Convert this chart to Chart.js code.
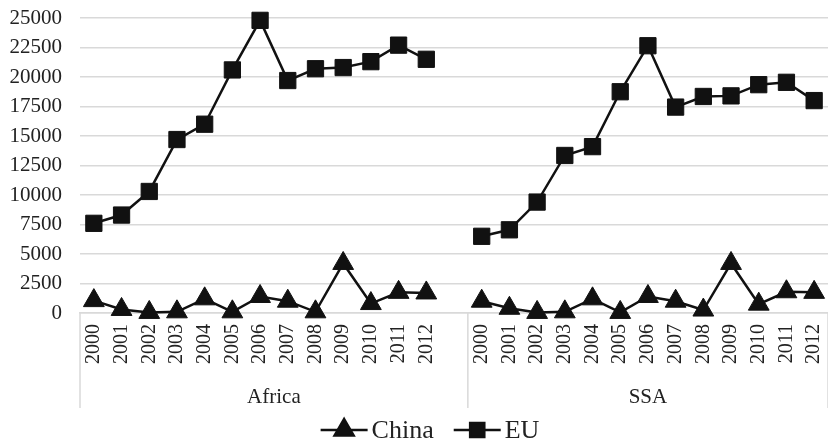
<!DOCTYPE html>
<html>
<head>
<meta charset="utf-8">
<script src="https://cdn.jsdelivr.net/npm/chart.js@4.4.1/dist/chart.umd.min.js"></script>
<style>
  html, body { margin: 0; padding: 0; background: #fff; }
  #wrap { width: 828px; height: 442px; }
</style>
</head>
<body>
<div id="wrap"><canvas id="tradeChart"></canvas></div>
<script>
const years = ["2000", "2001", "2002", "2003", "2004", "2005", "2006",
               "2007", "2008", "2009", "2010", "2011", "2012"];
const groups = ["Africa", "SSA"];

const chinaAfrica = [1050, 300, 50, 100, 1200, 100, 1400, 1000, 100, 4200, 800, 1750, 1700];
const euAfrica = [7600, 8300, 10300, 14700, 16000, 20600, 24800, 19700, 20700, 20800, 21300, 22700, 21500];
const chinaSSA = [1000, 400, 50, 100, 1200, 50, 1400, 1000, 250, 4200, 750, 1800, 1750];
const euSSA = [6500, 7050, 9400, 13350, 14100, 18750, 22650, 17450, 18350, 18400, 19350, 19550, 18000];

const yMax = 25000;
const yStep = 2500;

// one empty slot closes the Africa block, then the SSA block
const labels = [...years, "", ...years];
const china = [...chinaAfrica, null, ...chinaSSA];
const eu = [...euAfrica, null, ...euSSA];

const ink = "#111";
const grid = "#d9d9d9";
const serif = "'Liberation Serif', 'Times New Roman', serif";

const groupAxis = {
    id: "groupAxis",
    afterDraw(chart) {
        const ctx = chart.ctx;
        const x = chart.scales.x;
        const area = chart.chartArea;
        const half = (x.getPixelForValue(1) - x.getPixelForValue(0)) / 2;
        const sep = x.getPixelForValue(years.length) + half;
        const edges = [x.left, sep, x.right];

        ctx.save();
        ctx.strokeStyle = grid;
        ctx.lineWidth = 1.5;
        edges.forEach(px => {
            ctx.beginPath();
            ctx.moveTo(px, area.bottom);
            ctx.lineTo(px, 408);
            ctx.stroke();
        });

        ctx.fillStyle = "#222";
        ctx.font = "21px " + serif;
        ctx.textAlign = "center";
        ctx.textBaseline = "middle";
        groups.forEach((g, i) => {
            ctx.fillText(g, (edges[i] + edges[i + 1]) / 2, 397);
        });

        // legend: line with marker, then name
        ctx.font = "26px " + serif;
        ctx.textAlign = "left";
        const items = [
            { name: "China", style: "triangle" },
            { name: "EU", style: "rect" }
        ];
        const lineW = 47, gapText = 4, gapItem = 20;
        let total = 0;
        items.forEach((it, i) => {
            it.w = lineW + gapText + ctx.measureText(it.name).width;
            total += it.w + (i ? gapItem : 0);
        });
        let cx = 430 - total / 2;
        const cy = 430;
        items.forEach(it => {
            ctx.strokeStyle = ink;
            ctx.lineWidth = 2.5;
            ctx.beginPath();
            ctx.moveTo(cx, cy);
            ctx.lineTo(cx + lineW, cy);
            ctx.stroke();
            ctx.fillStyle = ink;
            Chart.helpers.drawPoint(ctx, {
                pointStyle: it.style,
                radius: it.style === "rect" ? 10 : 11,
                borderWidth: 1
            }, cx + lineW / 2, cy);
            ctx.fillStyle = "#222";
            ctx.fillText(it.name, cx + lineW + gapText, cy + 1);
            cx += it.w + gapItem;
        });
        ctx.restore();
    }
};

new Chart(document.getElementById("tradeChart"), {
    type: "line",
    data: {
        labels: labels,
        datasets: [
            {
                label: "China",
                data: china,
                borderColor: ink,
                backgroundColor: ink,
                borderWidth: 2.5,
                pointStyle: "triangle",
                pointRadius: 12,
                pointHoverRadius: 12,
                pointBorderWidth: 1,
                pointBackgroundColor: ink,
                pointBorderColor: ink,
                spanGaps: false,
                clip: false,
                tension: 0
            },
            {
                label: "EU",
                data: eu,
                borderColor: ink,
                backgroundColor: ink,
                borderWidth: 2.5,
                pointStyle: "rect",
                pointRadius: 11.5,
                pointHoverRadius: 11.5,
                pointBorderWidth: 1,
                pointBackgroundColor: ink,
                pointBorderColor: ink,
                spanGaps: false,
                clip: false,
                tension: 0
            }
        ]
    },
    options: {
        responsive: true,
        maintainAspectRatio: false,
        animation: false,
        layout: {
            autoPadding: false,
            padding: { top: 18, right: 0, bottom: 0, left: 0 }
        },
        plugins: {
            legend: { display: false },
            tooltip: { enabled: false }
        },
        scales: {
            x: {
                offset: true,
                grid: { display: false, drawTicks: false },
                border: { display: true, color: grid, width: 1.5 },
                ticks: {
                    autoSkip: false,
                    minRotation: 90,
                    maxRotation: 90,
                    padding: 11,
                    color: "#222",
                    font: { family: serif, size: 20 }
                },
                afterFit(scale) {
                    scale.height = 129;
                    scale.paddingLeft = 0;
                    scale.paddingRight = 0;
                }
            },
            y: {
                min: 0,
                max: yMax,
                grid: { color: grid, lineWidth: 1.5, drawTicks: false },
                border: { display: false },
                ticks: {
                    stepSize: yStep,
                    padding: 18,
                    color: "#222",
                    font: { family: serif, size: 21 },
                    callback: value => String(value)
                },
                afterFit(scale) {
                    scale.width = 80;
                    scale.paddingTop = 0;
                    scale.paddingBottom = 0;
                }
            }
        }
    },
    plugins: [groupAxis]
});
</script>
</body>
</html>
